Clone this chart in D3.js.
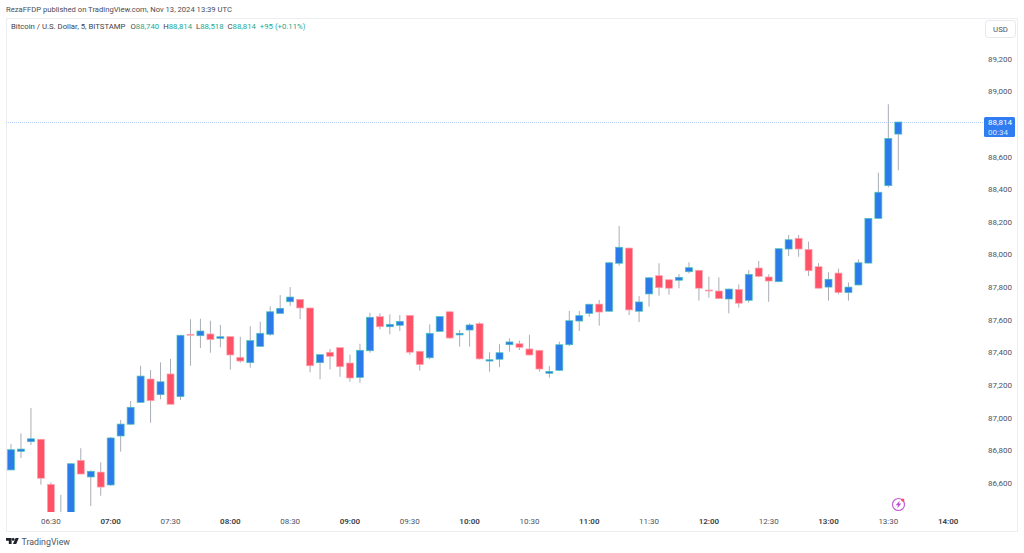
<html>

<head>
    <script src="https://d3js.org/d3.v7.min.js"></script>
    <style>
        body { margin: 0; background: #fff; }
        text { font-family: Roboto, sans-serif; }
    </style>
</head>

<body>
    <svg></svg>
    <script>
        // 5 minute candles, first one is 06:10
        const opens = [86683, 86797, 86856, 86871, 86595, 86350, 86380, 86742, 86640, 86670,
            86591, 86891, 86963, 87097, 87240, 87144, 87271, 87132, 87514, 87505,
            87516, 87489, 87500, 87373, 87340, 87440, 87514, 87642, 87713, 87728,
            87675, 87340, 87404, 87432, 87338, 87250, 87413, 87622, 87560, 87569,
            87630, 87410, 87370, 87532, 87652, 87510, 87540, 87579, 87350, 87361,
            87450, 87456, 87424, 87416, 87275, 87293, 87450, 87595, 87642, 87699,
            87655, 87949, 88042, 87655, 87761, 87873, 87848, 87845, 87897, 87906,
            87785, 87779, 87730, 87789, 87722, 87920, 87865, 87836, 88036, 88102,
            88034, 87928, 87803, 87889, 87769, 87816, 87950, 88224, 88424, 88740];
        const highs = [86842, 86907, 87062, 86871, 86607, 86530, 86725, 86816, 86680, 86730,
            86885, 86989, 87105, 87321, 87295, 87342, 87363, 87510, 87606, 87609,
            87597, 87571, 87500, 87499, 87563, 87591, 87685, 87754, 87803, 87730,
            87677, 87392, 87424, 87432, 87389, 87456, 87646, 87642, 87636, 87632,
            87632, 87412, 87575, 87625, 87654, 87540, 87581, 87587, 87404, 87453,
            87489, 87475, 87511, 87416, 87320, 87469, 87657, 87657, 87700, 87724,
            87955, 88177, 88045, 87748, 87862, 87949, 87850, 87883, 87955, 87908,
            87867, 87863, 87793, 87820, 87908, 87963, 87881, 88040, 88122, 88122,
            88081, 87950, 87894, 87916, 87832, 87973, 88226, 88504, 88923, 88814];
        const lows = [86683, 86756, 86836, 86593, 86380, 86300, 86380, 86658, 86462, 86525,
            86585, 86795, 86960, 87095, 86972, 87116, 87085, 87111, 87321, 87430,
            87401, 87434, 87297, 87340, 87309, 87438, 87505, 87640, 87687, 87607,
            87281, 87238, 87299, 87254, 87223, 87217, 87401, 87544, 87514, 87534,
            87389, 87291, 87361, 87530, 87485, 87438, 87438, 87360, 87285, 87312,
            87407, 87418, 87385, 87285, 87248, 87290, 87442, 87534, 87622, 87567,
            87652, 87934, 87632, 87589, 87683, 87750, 87756, 87796, 87887, 87720,
            87738, 87730, 87642, 87677, 87707, 87863, 87713, 87833, 87993, 87989,
            87871, 87794, 87720, 87759, 87720, 87814, 87948, 88222, 88414, 88518];
        const closes = [86807, 86811, 86874, 86632, 86400, 86380, 86721, 86658, 86675, 86578,
            86879, 86964, 87067, 87258, 87107, 87223, 87085, 87508, 87508, 87534,
            87481, 87499, 87387, 87350, 87475, 87520, 87652, 87673, 87742, 87675,
            87321, 87389, 87379, 87315, 87246, 87416, 87618, 87560, 87575, 87593,
            87404, 87328, 87520, 87622, 87491, 87520, 87571, 87363, 87358, 87401,
            87467, 87434, 87387, 87301, 87287, 87450, 87597, 87628, 87698, 87650,
            87952, 88047, 87663, 87712, 87860, 87799, 87796, 87863, 87922, 87796,
            87779, 87732, 87791, 87704, 87881, 87869, 87840, 88038, 88093, 88036,
            87903, 87796, 87851, 87769, 87803, 87952, 88224, 88384, 88714, 88814];

        const priceTicks = [86600, 86800, 87000, 87200, 87400, 87600, 87800, 88000, 88200, 88400, 88600, 89000, 89200];
        const lastPrice = 88814;
        const lastPriceLabels = ["88,814", "00:34"];
        const title = "Bitcoin / U.S. Dollar, 5, BITSTAMP";
        const ohlcLabels = ["O", "H", "L", "C"];
        const ohlcValues = ["88,740", "88,814", "88,518", "88,814"];
        const changeLabel = "+95 (+0.11%)";
        const publishedLabel = "RezaFFDP published on TradingView.com, Nov 13, 2024 13:39 UTC";

        const upColor = "#2b7bea"
        const upBorder = "#4fc3b8"
        const downColor = "#ff5266"
        const downBorder = "#ffa8b4"
        const wickColor = "#a9adb5"
        const textColor = "#50535e"
        const candleWidth = 7

        const width = 1024
        const height = 553
        const paneLeft = 6
        const paneRight = 1017
        const paneTop = 18
        const paneBottom = 531
        const plotBottom = 512
        const plotRight = 983

        const startTime = Date.UTC(2024, 10, 13, 6, 10);
        const times = opens.map((d, i) => new Date(startTime + i * 5 * 60 * 1000));

        const xScale = d3.scaleUtc()
            .domain([times[0], times[times.length - 1]])
            .range([11, 898.3]);
        const yScale = d3.scaleLinear().domain([86600, 89200]).range([483.5, 59]);

        const svg = d3.select("svg")
            .attr("width", width)
            .attr("height", height)
            .attr("viewBox", [0, 0, width, height])
            .style("display", "block");

        svg.append("defs").append("clipPath").attr("id", "plot")
            .append("rect")
            .attr("x", paneLeft)
            .attr("y", paneTop)
            .attr("width", plotRight - paneLeft)
            .attr("height", plotBottom - paneTop);

        // pane frame
        svg.append("rect")
            .attr("x", paneLeft + 0.5)
            .attr("y", paneTop + 0.5)
            .attr("width", paneRight - paneLeft)
            .attr("height", paneBottom - paneTop)
            .attr("fill", "none")
            .attr("stroke", "#eceef2");

        svg.append("text")
            .attr("x", 6)
            .attr("y", 11.5)
            .attr("font-size", 7.65)
            .attr("fill", "#4a4d57")
            .text(publishedLabel);

        // legend line, text is placed one piece after the other
        const legend = svg.append("text")
            .attr("x", 11)
            .attr("y", 29)
            .attr("font-size", 7.75)
            .attr("fill", "#3f424c");
        legend.append("tspan").text(title);
        ohlcLabels.forEach((l, i) => {
            legend.append("tspan").attr("dx", i == 0 ? 5 : 4).text(l);
            legend.append("tspan").attr("fill", "#1fa88f").text(ohlcValues[i]);
        });
        legend.append("tspan").attr("dx", 4).attr("fill", "#1fa88f").text(changeLabel);

        // last price line
        svg.append("line")
            .attr("x1", paneLeft)
            .attr("x2", plotRight)
            .attr("y1", Math.round(yScale(lastPrice)) + 0.5)
            .attr("y2", Math.round(yScale(lastPrice)) + 0.5)
            .attr("stroke", "#b4cff6")
            .attr("stroke-dasharray", "1 1");

        // candles
        const candles = svg.append("g")
            .attr("clip-path", "url(#plot)")
            .selectAll("g")
            .data(d3.range(opens.length))
            .join("g");

        candles.append("line")
            .attr("x1", i => xScale(times[i]))
            .attr("x2", i => xScale(times[i]))
            .attr("y1", i => yScale(highs[i]))
            .attr("y2", i => yScale(lows[i]))
            .attr("stroke", wickColor)
            .attr("stroke-width", 1);

        candles.append("rect")
            .attr("x", i => xScale(times[i]) - candleWidth / 2)
            .attr("width", candleWidth)
            .attr("y", i => yScale(Math.max(opens[i], closes[i])))
            .attr("height", i => Math.max(0.6, Math.abs(yScale(opens[i]) - yScale(closes[i]))))
            .attr("fill", i => closes[i] >= opens[i] ? upColor : downColor)
            .attr("stroke", i => closes[i] >= opens[i] ? upBorder : downBorder)
            .attr("stroke-width", 0.7);

        // price axis
        const yAxis = d3.axisRight(yScale)
            .tickValues(priceTicks)
            .tickSize(0)
            .tickPadding(0)
            .tickFormat(d3.format(","));
        svg.append("g")
            .attr("transform", "translate(988,-0.5)")
            .call(yAxis)
            .call(g => g.select(".domain").remove())
            .call(g => g.selectAll("text")
                .attr("font-family", null)
                .attr("font-size", 8)
                .attr("fill", textColor));

        // time axis, hours are bold
        const xTickValues = d3.range(16).map(i => new Date(Date.UTC(2024, 10, 13, 6, 30) + i * 30 * 60 * 1000));
        const xAxis = d3.axisBottom(xScale)
            .tickValues(xTickValues)
            .tickSize(0)
            .tickPadding(0)
            .tickFormat(d3.utcFormat("%H:%M"));
        svg.append("g")
            .attr("transform", "translate(-0.5,518)")
            .call(xAxis)
            .call(g => g.select(".domain").remove())
            .call(g => g.selectAll("text")
                .attr("font-family", null)
                .attr("font-size", 8)
                .attr("font-weight", d => d.getUTCMinutes() == 0 ? 600 : 400)
                .attr("fill", d => d.getUTCMinutes() == 0 ? "#3a3d46" : textColor));

        // USD button
        svg.append("rect")
            .attr("x", 985.5)
            .attr("y", 20.5)
            .attr("width", 30)
            .attr("height", 17)
            .attr("rx", 3)
            .attr("fill", "#fff")
            .attr("stroke", "#e6e8ec");
        svg.append("text")
            .attr("x", 1000.5)
            .attr("y", 32)
            .attr("text-anchor", "middle")
            .attr("font-size", 7.8)
            .attr("fill", textColor)
            .text("USD");

        // last price tag
        svg.append("rect")
            .attr("x", 984)
            .attr("y", 117)
            .attr("width", 31)
            .attr("height", 20)
            .attr("rx", 1.5)
            .attr("fill", "#2f7df0");
        svg.selectAll(".tag")
            .data(lastPriceLabels)
            .join("text")
            .attr("class", "tag")
            .attr("x", 988)
            .attr("y", (d, i) => 125 + i * 9.5)
            .attr("font-size", 8)
            .attr("fill", (d, i) => i == 0 ? "#fff" : "#d5e5fd")
            .text(d => d);

        // lightning badge
        const badge = svg.append("g").attr("transform", "translate(898.5,504.5)");
        badge.append("circle")
            .attr("r", 6)
            .attr("fill", "#fff")
            .attr("stroke", "#c65fd8")
            .attr("stroke-width", 1.2);
        badge.append("path")
            .attr("d", "M1.4,-4 L-2.8,0.8 L-0.4,0.8 L-1.4,4 L2.8,-1 L0.4,-1 Z")
            .attr("fill", "#b94ed0");
        badge.append("circle")
            .attr("cx", 4.3)
            .attr("cy", -4.5)
            .attr("r", 1.6)
            .attr("fill", "#ff4d5e");

        // TradingView logo
        svg.append("path")
            .attr("transform", "translate(6,538)")
            .attr("d", "M0,0 H5.6 V6 H2.8 V2.7 H0 Z M12.8,0 L10.2,6 H7 L9.6,0 Z")
            .attr("fill", "#1f2229");
        svg.append("circle")
            .attr("cx", 13.2)
            .attr("cy", 539.4)
            .attr("r", 1.4)
            .attr("fill", "#1f2229");
        svg.append("text")
            .attr("x", 21.5)
            .attr("y", 545)
            .attr("font-size", 8.8)
            .attr("fill", "#50535e")
            .text("TradingView");
    </script>
</body>

</html>
